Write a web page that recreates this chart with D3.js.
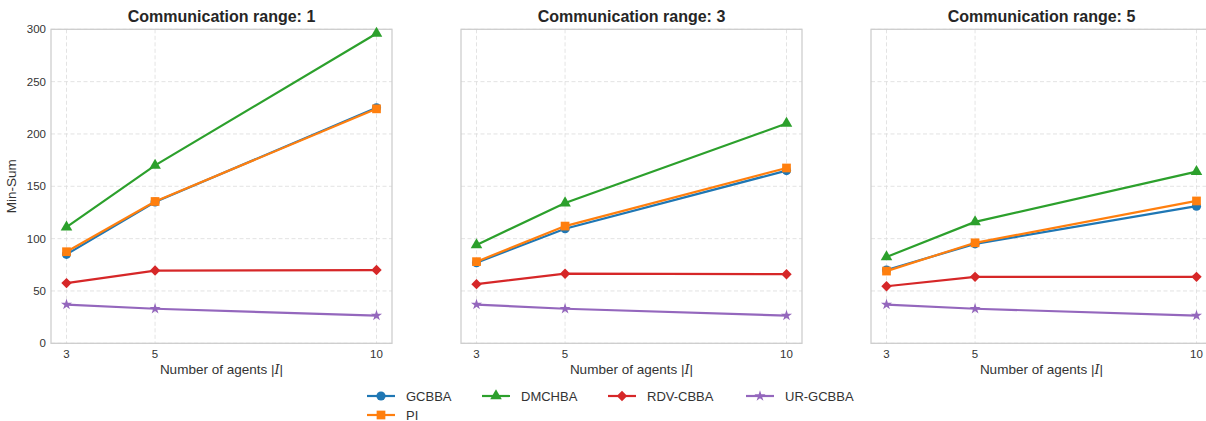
<!DOCTYPE html>
<html>
<head>
<meta charset="utf-8">
<script src="https://cdn.jsdelivr.net/npm/d3@7"></script>
<style>
  body { margin: 0; background: #fff; }
  text { font-family: 'Liberation Sans', Arial, sans-serif; }
</style>
</head>
<body>
<div id="chart"></div>
<script>
const agents = [3, 5, 10]
const ranges = [1, 3, 5]
const methods = ['GCBBA', 'PI', 'DMCHBA', 'RDV-CBBA', 'UR-GCBBA']
const yTicks = [0, 50, 100, 150, 200, 250, 300]

// values per method, one array per communication range
const gcbba = [[85, 135, 225], [77, 109.5, 165], [70, 95, 131]]
const pi = [[87.5, 135.5, 224], [78, 112, 167.5], [69, 96, 136]]
const dmchba = [[111, 170, 296], [94, 134, 210], [82.5, 116, 164]]
const rdvcbba = [[57.5, 69.5, 70], [56.5, 66.5, 66], [54.5, 63.5, 63.5]]
const urgcbba = [[37, 33, 26.5], [37, 33, 26.5], [37, 33, 26.5]]

const seriesValues = [gcbba, pi, dmchba, rdvcbba, urgcbba]
const colors = ['#1f77b4', '#ff7f0e', '#2ca02c', '#d62728', '#9467bd']

const width = 1206
const height = 421
const panelLefts = [51, 461, 871]
const panelWidth = 341
const plotTop = 29.3
const plotBottom = 343.3

const svg = d3
  .select('#chart')
  .append('svg')
  .attr('width', width)
  .attr('height', height)

const x = d3
  .scaleLinear()
  .domain([2.65, 10.35])
  .range([0, panelWidth])

const y = d3
  .scaleLinear()
  .domain([0, 300])
  .range([plotBottom, plotTop])

const colorScale = d3.scaleOrdinal().domain(methods).range(colors)

function markerPath(name) {
  if (name === 'GCBBA') return d3.symbol(d3.symbolCircle, 66)()
  if (name === 'PI') return d3.symbol(d3.symbolSquare, 76)()
  if (name === 'DMCHBA') return d3.symbol(d3.symbolTriangle, 58)()
  if (name === 'RDV-CBBA') return d3.symbol(d3.symbolSquare, 54)()
  return d3.symbol(d3.symbolStar, 38)()
}
function markerRotate(name) {
  return name === 'RDV-CBBA' ? ' rotate(45)' : ''
}

const line = d3
  .line()
  .x((d, i) => x(agents[i]))
  .y(d => y(d))

ranges.forEach(function(r, p) {
  const g = svg.append('g').attr('transform', `translate(${panelLefts[p]},0)`)

  // grid
  g.selectAll('.hgrid')
    .data(yTicks)
    .enter()
    .append('line')
    .attr('x1', 0)
    .attr('x2', panelWidth)
    .attr('y1', d => y(d))
    .attr('y2', d => y(d))
    .attr('stroke', '#dcdcdc')
    .attr('stroke-width', 0.8)
    .attr('stroke-dasharray', '4,2.5')

  g.selectAll('.vgrid')
    .data(agents)
    .enter()
    .append('line')
    .attr('x1', d => x(d))
    .attr('x2', d => x(d))
    .attr('y1', plotTop)
    .attr('y2', plotBottom)
    .attr('stroke', '#dcdcdc')
    .attr('stroke-width', 0.8)
    .attr('stroke-dasharray', '4,2.5')

  // frame
  g.append('rect')
    .attr('x', 0)
    .attr('y', plotTop)
    .attr('width', panelWidth)
    .attr('height', plotBottom - plotTop)
    .attr('fill', 'none')
    .attr('stroke', '#cccccc')
    .attr('stroke-width', 1.25)

  // x ticks
  g.selectAll('.xtick')
    .data(agents)
    .enter()
    .append('text')
    .attr('x', d => x(d))
    .attr('y', 357.5)
    .attr('text-anchor', 'middle')
    .attr('font-size', 11.5)
    .attr('fill', '#333')
    .text(d => d)

  if (p === 0) {
    g.selectAll('.ytick')
      .data(yTicks)
      .enter()
      .append('text')
      .attr('x', -5)
      .attr('y', d => y(d) + 4)
      .attr('text-anchor', 'end')
      .attr('font-size', 11.5)
      .attr('fill', '#333')
      .text(d => d)

    g.append('text')
      .attr('transform', `translate(-35,${(plotTop + plotBottom) / 2}) rotate(-90)`)
      .attr('text-anchor', 'middle')
      .attr('font-size', 13.5)
      .attr('fill', '#333')
      .text('Min-Sum')
  }

  const xl = g.append('text')
    .attr('x', panelWidth / 2)
    .attr('y', 374)
    .attr('text-anchor', 'middle')
    .attr('font-size', 13.5)
    .attr('fill', '#333')
  xl.append('tspan').text('Number of agents |')
  xl.append('tspan').attr('font-family', 'DejaVu Serif').attr('font-style', 'italic').attr('font-size', 13).text('I')
  xl.append('tspan').text('|')

  g.append('text')
    .attr('x', panelWidth / 2)
    .attr('y', 22)
    .attr('text-anchor', 'middle')
    .attr('font-size', 16)
    .attr('font-weight', 'bold')
    .attr('fill', '#262626')
    .text('Communication range: ' + r)

  // series
  methods.forEach(function(m, k) {
    const vals = seriesValues[k][p]
    g.append('path')
      .datum(vals)
      .attr('d', line)
      .attr('fill', 'none')
      .attr('stroke', colorScale(m))
      .attr('stroke-width', 2.2)

    g.selectAll('.mk' + k)
      .data(vals)
      .enter()
      .append('path')
      .attr('d', markerPath(m))
      .attr('transform', (d, i) => `translate(${x(agents[i])},${y(d)})` + markerRotate(m))
      .attr('fill', colorScale(m))
  })
})

// legend, column-major with 4 columns
const legendCols = [367, 482, 608, 746]
const legendRows = [396, 415]
const legendItems = methods.map(function(m, i) {
  const col = i < 2 ? 0 : i - 1
  const row = i === 1 ? 1 : 0
  return { name: m, col: col, row: row }
})

const legend = svg.append('g')

legend
  .selectAll('g')
  .data(legendItems)
  .enter()
  .append('g')
  .attr('transform', d => `translate(${legendCols[d.col]},${legendRows[d.row]})`)
  .each(function(d) {
    const group = d3.select(this)
    group.append('line')
      .attr('x1', 0)
      .attr('x2', 28)
      .attr('stroke', colorScale(d.name))
      .attr('stroke-width', 2.2)
    group.append('path')
      .attr('d', markerPath(d.name))
      .attr('transform', 'translate(14,0)' + markerRotate(d.name))
      .attr('fill', colorScale(d.name))
    group.append('text')
      .attr('x', 39)
      .attr('y', 5)
      .attr('font-size', 13)
      .attr('fill', '#333')
      .text(d.name)
  })
</script>
</body>
</html>
